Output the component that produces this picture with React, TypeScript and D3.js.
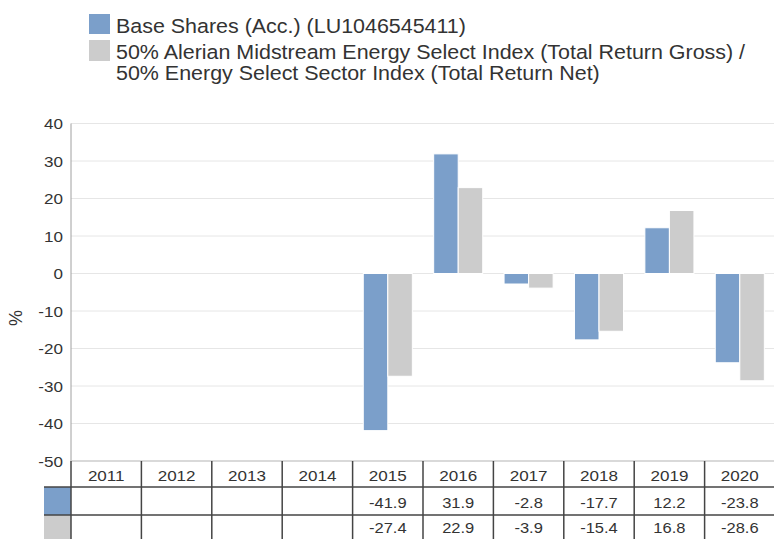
import React from 'react';
import * as d3 from 'd3';

const years = ['2011', '2012', '2013', '2014', '2015', '2016', '2017', '2018', '2019', '2020'];
const baseShares: (number | null)[] = [null, null, null, null, -41.9, 31.9, -2.8, -17.7, 12.2, -23.8];
const benchmark: (number | null)[] = [null, null, null, null, -27.4, 22.9, -3.9, -15.4, 16.8, -28.6];
const yTicks = [40, 30, 20, 10, 0, -10, -20, -30, -40, -50];
const seriesNames = ['Base Shares (Acc.) (LU1046545411)',
  '50% Alerian Midstream Energy Select Index (Total Return Gross) /',
  '50% Energy Select Sector Index (Total Return Net)'];

const BLUE = '#7b9fca';
const GREY = '#cccccc';
const TEXT = '#333333';
const FONT = 'Liberation Sans, Arial, sans-serif';
const SX = 1.1; // the reference text is a bit wider than it is tall

function T({ x, y, size, anchor = 'start', children }: {
  x: number; y: number; size: number; anchor?: string; children: React.ReactNode;
}) {
  return (
    <text transform={`translate(${x},${y}) scale(${SX},1)`} textAnchor={anchor} fontSize={size} fill={TEXT}>
      {children}
    </text>
  );
}

export default function App() {
  const width = 774;
  const height = 539;
  const left = 71;
  const right = 775;
  const tableTop = 461;
  const row1 = 487;
  const row2 = 515;

  const x = d3.scaleBand<string>().domain(years).range([left, right]).paddingInner(0).paddingOuter(0);
  const x1 = d3.scaleBand<string>().domain(['base', 'bench']).range([0, x.bandwidth()]).paddingInner(0).paddingOuter(0.435);
  const y = d3.scaleLinear().domain([-50, 40]).range([tableTop, 123.5]);

  const series = [
    { key: 'base', values: baseShares, color: BLUE },
    { key: 'bench', values: benchmark, color: GREY },
  ];

  return (
    <svg width={width} height={height} style={{ position: 'absolute', left: 0, top: 0 }} fontFamily={FONT}>
      {/* legend */}
      <rect x={89} y={14} width={21} height={20} fill={BLUE} />
      <T x={116} y={32.5} size={19.5}>{seriesNames[0]}</T>
      <rect x={89} y={40} width={21} height={21} fill={GREY} />
      <T x={116} y={58.5} size={19.5}>{seriesNames[1]}</T>
      <T x={116} y={80} size={19.5}>{seriesNames[2]}</T>

      {/* grid + y axis */}
      {yTicks.filter(t => t > -50).map(t => (
        <line key={t} x1={left} x2={right} y1={y(t)} y2={y(t)} stroke="#e6e6e6" />
      ))}
      {yTicks.map(t => (
        <T key={t} x={63} y={y(t) + 5.5} size={15.5} anchor="end">{t}</T>
      ))}
      <line x1={left} x2={left} y1={y(40)} y2={tableTop} stroke="#a0a0a0" />
      <text transform={`translate(21.5,318) rotate(-90)`} textAnchor="middle" fontSize={18} fill={TEXT}>%</text>

      {/* bars */}
      {series.map(s => s.values.map((v, i) => v === null ? null : (
        <rect key={s.key + i}
          x={(x(years[i]) ?? 0) + (x1(s.key) ?? 0)}
          y={y(Math.max(0, v))}
          width={x1.bandwidth()}
          height={Math.abs(y(v) - y(0))}
          fill={s.color} stroke="#fff" strokeWidth={1} />
      )))}

      {/* data table */}
      <rect x={44} y={row1} width={left - 44} height={row2 - row1} fill={BLUE} />
      <rect x={44} y={row2} width={left - 44} height={height - row2} fill={GREY} />
      <line x1={left} x2={right} y1={tableTop} y2={tableTop} stroke="#cccccc" strokeWidth={1.5} />
      <line x1={44} x2={right} y1={row1} y2={row1} stroke="#444" strokeWidth={1.5} />
      <line x1={44} x2={right} y1={row2} y2={row2} stroke="#444" strokeWidth={1.5} />
      {years.map(yr => (
        <line key={yr} x1={x(yr)} x2={x(yr)} y1={tableTop} y2={height} stroke="#444" strokeWidth={1.5} />
      ))}
      {years.map((yr, i) => {
        const cx = (x(yr) ?? 0) + x.bandwidth() / 2;
        return (
          <g key={yr}>
            <T x={cx} y={481} size={15.5} anchor="middle">{yr}</T>
            {baseShares[i] !== null && <T x={cx} y={507.5} size={15} anchor="middle">{baseShares[i]}</T>}
            {benchmark[i] !== null && <T x={cx} y={532.5} size={15} anchor="middle">{benchmark[i]}</T>}
          </g>
        );
      })}
    </svg>
  );
}
